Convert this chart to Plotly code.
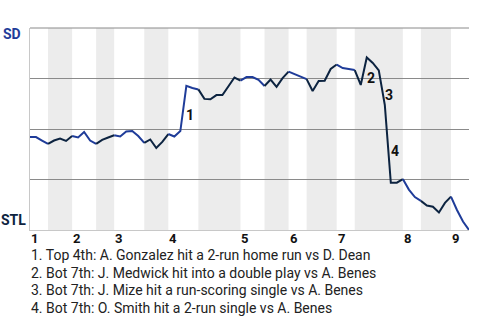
import plotly.graph_objects as go

# Win probability for SD (visitor), one value per plate appearance (0 = game start)
wp_sd = [46.0, 46.0, 44.3, 42.6, 44.3, 45.3, 44.1, 46.5, 45.8, 48.5,
         44.3, 42.6, 44.6, 45.8, 46.9, 46.3, 48.8, 49.0, 46.5, 43.1,
         44.8, 40.6, 43.6, 47.5, 46.3, 49.0, 71.4, 70.3, 69.6, 64.9,
         64.7, 66.8, 66.8, 71.3, 75.5, 74.0, 75.7, 75.7, 74.3, 71.3,
         74.5, 70.9, 75.2, 78.4, 77.1, 75.9, 74.7, 68.8, 73.8, 73.9,
         79.7, 81.9, 80.2, 79.7, 79.2, 71.8, 85.4, 82.7, 79.0, 61.9,
         23.4, 23.4, 25.2, 20.0, 16.3, 14.4, 12.1, 11.5, 8.7, 13.4,
         16.5, 9.9, 4.2, 0.0]

# plate-appearance index at which each half-inning ends (top 1st ... top 9th)
half_inning_ends = [0, 3, 7, 11, 14, 19, 23, 28, 35, 39, 43, 46, 51, 54, 62, 65, 70, 73]
inning_labels = ["1", "2", "3", "4", "5", "6", "7", "8", "9"]

# key events: PA index and description
event_pa = [26, 56, 59, 60]
event_text = [
    "Top 4th: A. Gonzalez hit a 2-run home run vs D. Dean",
    "Bot 7th: J. Medwick hit into a double play vs A. Benes",
    "Bot 7th: J. Mize hit a run-scoring single vs A. Benes",
    "Bot 7th: O. Smith hit a 2-run single vs A. Benes",
]

team_top = "SD"
team_bottom = "STL"
color_top = "#1f3c99"
color_bottom = "#0c2340"
FONT = "Roboto"

fig = go.Figure()

shapes = []
n_half = len(half_inning_ends) - 1
for i in range(n_half):
    a, b = half_inning_ends[i], half_inning_ends[i + 1]
    is_bottom = (i % 2 == 1)
    if is_bottom:
        shapes.append(dict(type="rect", xref="x", yref="paper", x0=a, x1=b, y0=0, y1=1,
                           fillcolor="#ececec", line=dict(width=0), layer="below"))
    xs = list(range(a, b + 1))
    ys = wp_sd[a:b + 1]
    fig.add_trace(go.Scatter(x=xs, y=ys, mode="lines",
                             line=dict(color=color_bottom if is_bottom else color_top, width=2),
                             hoverinfo="skip", showlegend=False))

# top border line (100%)
shapes.append(dict(type="line", xref="paper", yref="paper", x0=0, x1=1, y0=1, y1=1,
                   line=dict(color="#8a8a8a", width=1), layer="below"))

annotations = []
# inning labels at the start of each top half
for j, lab in enumerate(inning_labels):
    x0 = half_inning_ends[2 * j]
    annotations.append(dict(x=x0, y=0, xref="x", yref="paper", text=f"<b>{lab}</b>",
                            showarrow=False, xanchor="left", yanchor="top", xshift=-1, yshift=1,
                            font=dict(family=FONT, size=13, color="#111")))
# event markers near the line
for n, k in enumerate(event_pa):
    xm = k - 0.5
    ym = (wp_sd[k - 1] + wp_sd[k]) / 2
    annotations.append(dict(x=xm, y=ym, xref="x", yref="y", text=f"<b>{n + 1}</b>",
                            showarrow=False, xanchor="center", yanchor="middle",
                            xshift=7, yshift=-7,
                            font=dict(family=FONT, size=14, color="#111")))
# team labels
annotations.append(dict(x=0, y=1, xref="paper", yref="paper", text=f"<b>{team_top}</b>",
                        showarrow=False, xanchor="right", yanchor="middle", xshift=-7, yshift=-6,
                        font=dict(family=FONT, size=14, color=color_top)))
annotations.append(dict(x=0, y=0, xref="paper", yref="paper", text=f"<b>{team_bottom}</b>",
                        showarrow=False, xanchor="right", yanchor="middle", xshift=-2, yshift=10,
                        font=dict(family=FONT, size=14, color=color_bottom)))
# caption lines
for n, t in enumerate(event_text):
    annotations.append(dict(x=0, y=0, xref="paper", yref="paper", text=f"{n + 1}. {t}",
                            showarrow=False, xanchor="left", yanchor="top",
                            xshift=-1, yshift=-15 - 17.5 * n,
                            font=dict(family=FONT, size=14, color="#222")))

fig.update_layout(
    width=480, height=320,
    margin=dict(l=30, r=11, t=28, b=90),
    paper_bgcolor="white", plot_bgcolor="white",
    shapes=shapes, annotations=annotations,
    xaxis=dict(range=[0, 73], showgrid=False, zeroline=False, showticklabels=False,
               showline=True, linecolor="#c8c8c8", linewidth=1, fixedrange=True),
    yaxis=dict(range=[0, 100], tickvals=[25, 50, 75], showgrid=True, gridcolor="#8a8a8a",
               gridwidth=1, zeroline=False, showticklabels=False,
               showline=True, linecolor="#c8c8c8", linewidth=1, fixedrange=True),
    font=dict(family=FONT),
)

fig.write_html("out.html", config={"displayModeBar": False})
